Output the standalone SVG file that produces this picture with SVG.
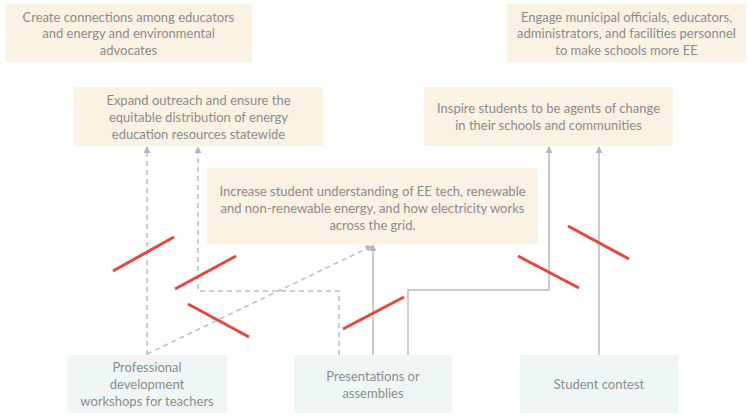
<svg xmlns="http://www.w3.org/2000/svg" width="748" height="418" viewBox="0 0 748 418">
  <defs>
    <marker id="arrow" viewBox="0 0 10 10" refX="9" refY="5" markerWidth="7" markerHeight="7" markerUnits="userSpaceOnUse" orient="auto">
      <path d="M0,0 L10,5 L0,10 z" fill="#b5b5b5"/>
    </marker>
    <style>
      .goal { fill: #faf2e3; }
      .act { fill: #eef7f6; }
      text { font-family: Lato, "Open Sans", "Liberation Sans", sans-serif; font-size: 13px; fill: #8c8c8c; text-anchor: middle; }
      .link { fill: none; stroke: #bdbdbd; stroke-width: 1.5; marker-end: url(#arrow); }
      .dash { stroke-dasharray: 5 4; }
      .cut { stroke: #e5473a; stroke-width: 3; stroke-linecap: butt; }
    </style>
  </defs>
  <rect width="748" height="418" fill="#ffffff"/>

  <!-- outcome boxes -->
  <g id="connections">
    <rect class="goal" x="5" y="4" width="247" height="58"/>
    <text x="128.5" y="21.5">Create connections among educators</text>
    <text x="128.5" y="38">and energy and environmental</text>
    <text x="128.5" y="54.5">advocates</text>
  </g>
  <g id="engage">
    <rect class="goal" x="507" y="4" width="239" height="58"/>
    <text x="626.5" y="21.5">Engage municipal officials, educators,</text>
    <text x="626.5" y="38">administrators, and facilities personnel</text>
    <text x="626.5" y="54.5">to make schools more EE</text>
  </g>
  <g id="outreach">
    <rect class="goal" x="74" y="87" width="249" height="59"/>
    <text x="198.5" y="104.5">Expand outreach and ensure the</text>
    <text x="198.5" y="121.5">equitable distribution of energy</text>
    <text x="198.5" y="138.5">education resources statewide</text>
  </g>
  <g id="inspire">
    <rect class="goal" x="424" y="87" width="249" height="59"/>
    <text x="548.5" y="112.5">Inspire students to be agents of change</text>
    <text x="548.5" y="129.5">in their schools and communities</text>
  </g>
  <g id="understanding">
    <rect class="goal" x="207" y="168" width="331" height="76"/>
    <text x="372.5" y="196">Increase student understanding of EE tech, renewable</text>
    <text x="372.5" y="213">and non-renewable energy, and how electricity works</text>
    <text x="372.5" y="229.5">across the grid.</text>
  </g>

  <!-- activity boxes -->
  <g id="workshops">
    <rect class="act" x="67" y="355" width="160" height="58"/>
    <text x="147" y="371.5">Professional</text>
    <text x="147" y="388.5">development</text>
    <text x="147" y="405.5">workshops for teachers</text>
  </g>
  <g id="presentations">
    <rect class="act" x="294" y="355" width="158" height="58"/>
    <text x="373" y="380.5">Presentations or</text>
    <text x="373" y="397.5">assemblies</text>
  </g>
  <g id="contest">
    <rect class="act" x="520" y="355" width="158" height="58"/>
    <text x="599" y="388.5">Student contest</text>
  </g>

  <!-- connectors -->
  <g id="connectors">
    <path class="link dash" d="M147,355 V147"/>
    <path class="link dash" d="M339,355 V291 H198 V147"/>
    <path class="link dash" d="M147,354 L372,246"/>
    <path class="link" d="M373,355 V245"/>
    <path class="link" d="M408,355 V290 H549 V147"/>
    <path class="link" d="M599,355 V147"/>
  </g>

  <!-- red break marks -->
  <g id="breaks">
    <line class="cut" x1="113" y1="271" x2="174" y2="237"/>
    <line class="cut" x1="175" y1="289" x2="236" y2="256"/>
    <line class="cut" x1="188" y1="304" x2="249" y2="337"/>
    <line class="cut" x1="343" y1="329" x2="404" y2="297"/>
    <line class="cut" x1="518" y1="256" x2="579" y2="288"/>
    <line class="cut" x1="568" y1="226" x2="629" y2="259"/>
  </g>
</svg>
